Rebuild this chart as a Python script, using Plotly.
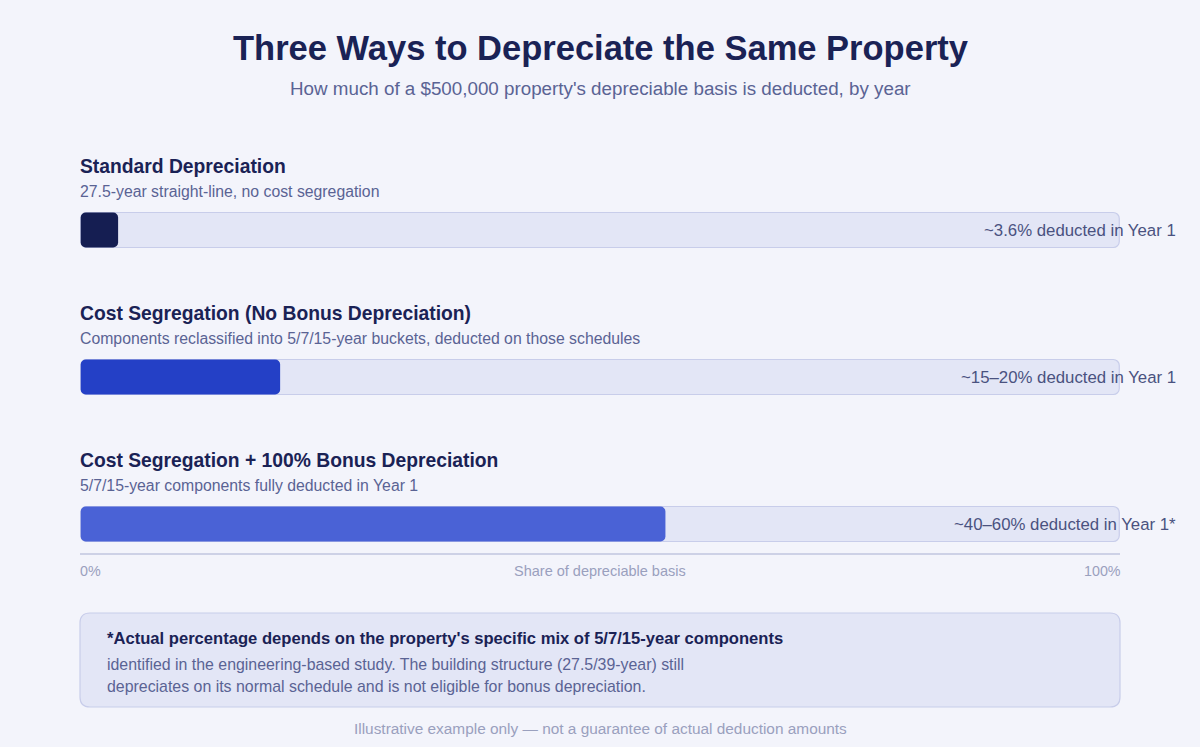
import plotly.graph_objects as go

# data
scenarios = ['Standard Depreciation',
             'Cost Segregation (No Bonus Depreciation)',
             'Cost Segregation + 100% Bonus Depreciation']
descriptions = ['27.5-year straight-line, no cost segregation',
                'Components reclassified into 5/7/15-year buckets, deducted on those schedules',
                '5/7/15-year components fully deducted in Year 1']
year1_share = [3.6, 19.2, 56.3]
share_labels = ['~3.6% deducted in Year 1', '~15–20% deducted in Year 1', '~40–60% deducted in Year 1*']
bar_colors = ['#151E52', '#2440C6', '#4A62D6']
track_max = [100, 100, 100]
bar_start = [0, 0, 0]
note_lines = ['identified in the engineering-based study. The building structure (27.5/39-year) still',
              'depreciates on its normal schedule and is not eligible for bonus depreciation.']

FONT = 'Liberation Sans, Arial, sans-serif'
BG = '#F3F4FB'
TRACK = '#E3E6F6'
TRACK_LINE = '#C8CDEA'
NAVY = '#1A2255'
MUTED = '#5A6394'
LIGHT = '#9AA0BE'

W, H = 1200, 747
M_T, M_B = 130, 194
px_per_cat = 147
plot_h = H - M_T - M_B
y_bottom = 2 + 29 / px_per_cat
y_top = y_bottom - plot_h / px_per_cat
bar_w = 35 / px_per_cat

idx = list(range(len(scenarios)))

fig = go.Figure()
# explicit base -> plotly rounds both ends of the bar
fig.add_trace(go.Bar(
    x=track_max, base=bar_start, y=idx, orientation='h', width=bar_w,
    marker=dict(color=TRACK, line=dict(color=TRACK_LINE, width=1.2), cornerradius=6),
    hoverinfo='skip', showlegend=False
))
fig.add_trace(go.Bar(
    x=year1_share, base=bar_start, y=idx, orientation='h', width=bar_w,
    marker=dict(color=bar_colors, line=dict(width=0), cornerradius=5),
    hovertemplate='%{x}%<extra></extra>', showlegend=False
))


def py(pix):
    # pixel row -> paper y
    return (H - M_B - pix) / plot_h


def note(text, x, ypix, size, color, xanchor='left'):
    shift = -2 if xanchor == 'left' else (3 if xanchor == 'right' else 0)
    return dict(text=text, xref='paper', yref='paper', x=x, y=py(ypix), xanchor=xanchor,
                xshift=shift, yanchor='middle', showarrow=False, font=dict(size=size, color=color))


ann = [
    note('<b>Three Ways to Depreciate the Same Property</b>', 0.5, 48, 34.5, NAVY, 'center'),
    note("How much of a $500,000 property's depreciable basis is deducted, by year",
         0.5, 89, 18.8, MUTED, 'center'),
]

for i, (name, desc, lab) in enumerate(zip(scenarios, descriptions, share_labels)):
    ann.append(dict(text=f'<b>{name}</b>', xref='paper', yref='y', x=0, y=i, yshift=64, xshift=-2,
                    xanchor='left', yanchor='middle', showarrow=False,
                    font=dict(size=19.3, color=NAVY)))
    ann.append(dict(text=desc, xref='paper', yref='y', x=0, y=i, yshift=39, xshift=-2,
                    xanchor='left', yanchor='middle', showarrow=False,
                    font=dict(size=15.8, color=MUTED)))
    ann.append(dict(text=lab, xref='paper', yref='y', x=1 + 55 / 1040, y=i, xshift=3,
                    xanchor='right', yanchor='middle', showarrow=False,
                    font=dict(size=16.8, color='#4A5280')))

# axis labels
ann.append(note('0%', 0, 571, 14.3, LIGHT, 'left'))
ann.append(note('100%', 1, 571, 14.3, LIGHT, 'right'))
ann.append(note('Share of depreciable basis', 0.5, 571, 14.5, LIGHT, 'center'))

# footnote box text
ann.append(note("<b>*Actual percentage depends on the property's specific mix of 5/7/15-year components</b>",
                27 / 1040, 638, 16.6, NAVY))
ann.append(note(note_lines[0], 27 / 1040, 664, 15.9, MUTED))
ann.append(note(note_lines[1], 27 / 1040, 686, 15.9, MUTED))
ann.append(note('Illustrative example only — not a guarantee of actual deduction amounts',
                0.5, 728, 15.4, LIGHT, 'center'))

# rounded box for the footnote
x0, x1 = 0, 1
y0, y1 = py(707), py(613)
r = 10 / 1040
ry = 10 / plot_h
box_path = (f'M {x0 + r},{y0} L {x1 - r},{y0} Q {x1},{y0} {x1},{y0 + ry} '
            f'L {x1},{y1 - ry} Q {x1},{y1} {x1 - r},{y1} '
            f'L {x0 + r},{y1} Q {x0},{y1} {x0},{y1 - ry} '
            f'L {x0},{y0 + ry} Q {x0},{y0} {x0 + r},{y0} Z')

fig.update_layout(
    width=W, height=H,
    margin=dict(l=80, r=80, t=M_T, b=M_B),
    paper_bgcolor=BG, plot_bgcolor=BG,
    barmode='overlay',
    font=dict(family=FONT),
    xaxis=dict(range=[-0.07, 100.07], showgrid=False, zeroline=False, showticklabels=False,
               showline=True, linecolor='#CDD1E6', linewidth=1.5, ticks='', fixedrange=True),
    yaxis=dict(range=[y_bottom, y_top], showgrid=False, zeroline=False, visible=False,
               fixedrange=True),
    annotations=ann,
    shapes=[dict(type='path', path=box_path, xref='paper', yref='paper',
                 fillcolor=TRACK, line=dict(color=TRACK_LINE, width=1.2), layer='below')],
)

fig.write_html('out.html', config={'displayModeBar': False},
               post_script="document.body.style.margin='0';document.body.style.background='#F3F4FB';")
